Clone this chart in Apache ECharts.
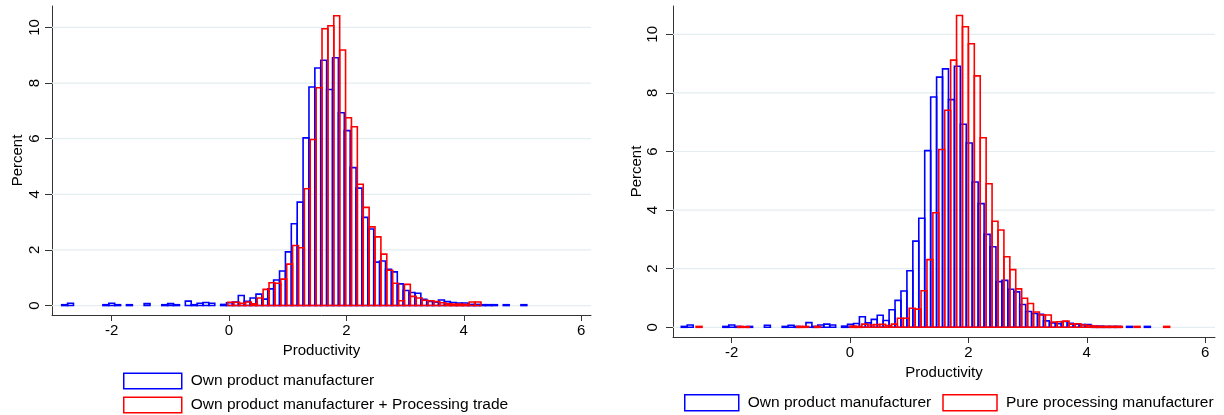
<!DOCTYPE html>
<html>
<head>
<meta charset="utf-8">
<script src="https://cdn.jsdelivr.net/npm/echarts@6/dist/echarts.min.js"></script>
<style>
html,body{margin:0;padding:0;background:#fff;}
#chart{width:1224px;height:415px;}
</style>
</head>
<body>
<div id="chart"></div>
<script>
// ---------------- DATA ----------------
const xTicks = [-2, 0, 2, 4, 6];
const yTicks = [0, 2, 4, 6, 8, 10];

// Own product manufacturer (same sample in both panels)
const ownStart = -2.85;
const ownWidth = 0.1003;
const ownHeights = [
  0.03, 0.08, 0, 0, 0, 0, 0, 0.03, 0.08, 0.03,
  0, 0.03, 0, 0, 0.07, 0, 0, 0.03, 0.07, 0.03,
  0, 0.16, 0.03, 0.08, 0.11, 0.08, 0, 0.04, 0.10, 0.13,
  0.36, 0.15, 0.27, 0.41, 0.23, 0.60, 0.92, 1.24, 1.93, 2.94,
  3.72, 6.03, 7.86, 8.54, 8.82, 7.77, 8.91, 6.93, 6.29, 4.96,
  4.22, 3.17, 2.75, 1.56, 1.60, 1.30, 1.21, 0.78, 0.54, 0.47,
  0.44, 0.22, 0.15, 0.12, 0.20, 0.14, 0.11, 0.09, 0.09, 0.04,
  0.04, 0.03, 0.03, 0.03, 0, 0.03, 0, 0, 0.03
];

// Own product manufacturer + Processing trade (left panel)
const mixStart = -0.02;
const mixWidth = 0.1003;
const mixHeights = [
  0.12, 0.12, 0.08, 0.13, 0.06, 0.27, 0.58, 0.82, 0.80, 0.95,
  1.49, 2.16, 2.08, 4.20, 5.97, 7.83, 9.95, 10.06, 10.42, 9.19,
  6.75, 6.43, 4.36, 3.53, 2.83, 2.47, 1.85, 1.27, 0.80, 0.17,
  0.76, 0.33, 0.27, 0.19, 0.17, 0.14, 0.10, 0.06, 0.05, 0.05,
  0.04, 0.13, 0.13
];

// Pure processing manufacturer (right panel)
const pureStart = -2.6;
const pureWidth = 0.1;
const pureHeights = [
  0.03, 0, 0, 0, 0, 0, 0, 0.03, 0.02, 0,
  0, 0, 0, 0, 0, 0, 0, 0.03, 0.03, 0,
  0.03, 0, 0, 0, 0, 0, 0.04, 0.03, 0.11, 0.08,
  0.09, 0.10, 0.06, 0.11, 0.31, 0.31, 0.65, 0.62, 1.25, 2.31,
  3.91, 6.07, 7.41, 9.12, 10.64, 10.26, 9.68, 8.58, 6.47, 4.90,
  3.62, 3.32, 2.41, 1.97, 1.31, 0.99, 0.81, 0.52, 0.42, 0.42,
  0.18, 0.19, 0.21, 0.11, 0.12, 0.08, 0.06, 0.04, 0.03, 0.03,
  0.03, 0.03, 0, 0, 0.03, 0, 0, 0, 0, 0.03
];

const nameOwn = 'Own product manufacturer';
const nameMix = 'Own product manufacturer + Processing trade';
const namePure = 'Pure processing manufacturer';

// ---------------- BUILD ----------------
function bins(start, width, heights) {
  return heights.map((h, i) => [start + i * width, start + (i + 1) * width, h]);
}

const BLUE = '#0000ff';
const RED = '#ff0000';
const FONT = 'Liberation Sans, Arial, sans-serif';
const FS = 15;

function histRender(color) {
  return function (params, api) {
    const h = api.value(2);
    if (!(h > 0)) return null;
    const p0 = api.coord([api.value(0), 0]);
    const p1 = api.coord([api.value(1), h]);
    return {
      type: 'rect',
      shape: { x: p0[0], y: p1[1], width: p1[0] - p0[0], height: p0[1] - p1[1] },
      style: { fill: 'none', stroke: color, lineWidth: 1.6 }
    };
  };
}

function gridRender(params, api) {
  const y = api.coord([0, api.value(0)])[1];
  const cs = params.coordSys;
  return {
    type: 'line',
    shape: { x1: cs.x, y1: y, x2: cs.x + cs.width, y2: y },
    style: { stroke: '#e4edef', lineWidth: 1.2 }
  };
}

function xAxisCfg(gi, min, max, nameGap) {
  return {
    type: 'value', gridIndex: gi, min: min, max: max,
    axisLine: { show: true, onZero: false, lineStyle: { color: '#333', width: 1 } },
    axisTick: { show: true, customValues: xTicks, length: 6, lineStyle: { color: '#333', width: 1 } },
    axisLabel: { customValues: xTicks, color: '#000', fontSize: FS, fontFamily: FONT, margin: 8 },
    splitLine: { show: false },
    name: 'Productivity', nameLocation: 'middle', nameGap: nameGap,
    nameTextStyle: { color: '#000', fontSize: FS, fontFamily: FONT }
  };
}

function yAxisCfg(gi, min, max, margin, nameGap) {
  return {
    type: 'value', gridIndex: gi, min: min, max: max,
    axisLine: { show: true, onZero: false, lineStyle: { color: '#333', width: 1 } },
    axisTick: { show: true, customValues: yTicks, length: 7, lineStyle: { color: '#333', width: 1 } },
    axisLabel: { customValues: yTicks, rotate: 90, color: '#000', fontSize: FS, fontFamily: FONT, margin: margin },
    splitLine: { show: false },
    name: 'Percent', nameLocation: 'middle', nameGap: nameGap, nameRotate: 90,
    nameTextStyle: { color: '#000', fontSize: FS, fontFamily: FONT }
  };
}

const legendText = { color: '#000', fontSize: 15.5, fontFamily: FONT, padding: [0, 0, 0, 4] };

const option = {
  animation: false,
  backgroundColor: '#ffffff',
  grid: [
    { left: 52, top: 6, width: 539, height: 309 },
    { left: 673, top: 6, width: 542, height: 331 }
  ],
  xAxis: [
    xAxisCfg(0, -3.015, 6.167, 24),
    xAxisCfg(1, -2.99, 6.166, 24)
  ],
  yAxis: [
    yAxisCfg(0, -0.34, 10.77, 10, 27),
    yAxisCfg(1, -0.331, 10.966, 12.5, 25)
  ],
  legend: [
    {
      orient: 'vertical', left: 123, top: 372.5, padding: 0, itemWidth: 58, itemHeight: 15.5, itemGap: 7,
      icon: 'rect', textStyle: legendText, selectedMode: false,
      data: [
        { name: nameOwn, itemStyle: { color: '#fff', borderColor: BLUE, borderWidth: 1.5 } },
        { name: nameMix, itemStyle: { color: '#fff', borderColor: RED, borderWidth: 1.5 } }
      ]
    },
    {
      orient: 'horizontal', left: 684, top: 394, padding: 0, itemWidth: 54, itemHeight: 16, itemGap: 11,
      icon: 'rect', textStyle: legendText, selectedMode: false,
      data: [
        { name: nameOwn, itemStyle: { color: '#fff', borderColor: BLUE, borderWidth: 1.5 } },
        { name: namePure, itemStyle: { color: '#fff', borderColor: RED, borderWidth: 1.5 } }
      ]
    }
  ],
  series: [
    { type: 'custom', name: 'grid0', xAxisIndex: 0, yAxisIndex: 0, data: yTicks.map(v => [v]),
      encode: { y: 0 }, renderItem: gridRender, silent: true, z: 1 },
    { type: 'custom', name: 'grid1', xAxisIndex: 1, yAxisIndex: 1, data: yTicks.map(v => [v]),
      encode: { y: 0 }, renderItem: gridRender, silent: true, z: 1 },
    { type: 'custom', name: nameOwn, xAxisIndex: 0, yAxisIndex: 0,
      data: bins(ownStart, ownWidth, ownHeights), encode: { x: [0, 1], y: 2 },
      renderItem: histRender(BLUE), itemStyle: { color: BLUE }, z: 2 },
    { type: 'custom', name: nameMix, xAxisIndex: 0, yAxisIndex: 0,
      data: bins(mixStart, mixWidth, mixHeights), encode: { x: [0, 1], y: 2 },
      renderItem: histRender(RED), itemStyle: { color: RED }, z: 3 },
    { type: 'custom', name: nameOwn, xAxisIndex: 1, yAxisIndex: 1,
      data: bins(ownStart, ownWidth, ownHeights), encode: { x: [0, 1], y: 2 },
      renderItem: histRender(BLUE), itemStyle: { color: BLUE }, z: 2 },
    { type: 'custom', name: namePure, xAxisIndex: 1, yAxisIndex: 1,
      data: bins(pureStart, pureWidth, pureHeights), encode: { x: [0, 1], y: 2 },
      renderItem: histRender(RED), itemStyle: { color: RED }, z: 3 }
  ]
};

const chart = echarts.init(document.getElementById('chart'), null, { renderer: 'canvas' });
chart.setOption(option);
</script>
</body>
</html>
